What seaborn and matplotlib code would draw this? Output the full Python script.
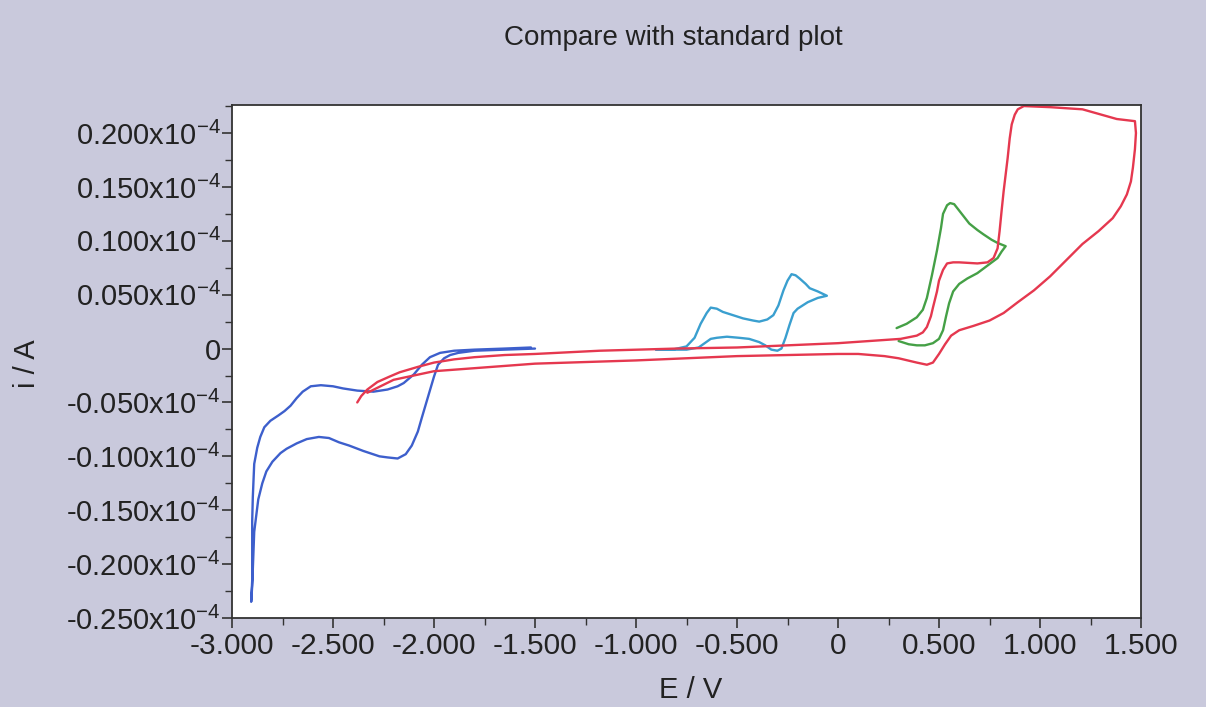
import numpy as np
import pandas as pd
import matplotlib
matplotlib.use("Agg")
import matplotlib.pyplot as plt
import seaborn as sns

# ---------------- data (E in V, i in units of 1e-4 A) ----------------
blue_E = [-1.50, -1.65, -1.80, -1.88, -1.92, -1.95, -1.98, -2.00, -2.03, -2.06, -2.08, -2.11, -2.14,
          -2.18, -2.23, -2.27, -2.35, -2.42, -2.47, -2.52, -2.57, -2.63, -2.68, -2.73, -2.76, -2.80,
          -2.83, -2.85, -2.87, -2.88, -2.89, -2.895, -2.90, -2.905,
          -2.90, -2.90, -2.90, -2.897, -2.893, -2.89, -2.875, -2.86, -2.84, -2.81, -2.77, -2.74,
          -2.71, -2.68, -2.65, -2.61, -2.56, -2.50, -2.45, -2.38, -2.30, -2.23, -2.18, -2.15, -2.10,
          -2.06, -2.02, -1.97, -1.90, -1.80, -1.65, -1.52]
blue_i = [0.000, -0.001, -0.002, -0.004, -0.006, -0.009, -0.015, -0.026, -0.045, -0.064, -0.077, -0.090, -0.098,
          -0.102, -0.101, -0.100, -0.095, -0.090, -0.087, -0.083, -0.082, -0.084, -0.088, -0.093, -0.097, -0.105,
          -0.114, -0.125, -0.140, -0.155, -0.170, -0.195, -0.220, -0.235,
          -0.215, -0.190, -0.160, -0.138, -0.120, -0.107, -0.092, -0.082, -0.073, -0.067, -0.062, -0.058,
          -0.053, -0.046, -0.040, -0.035, -0.034, -0.035, -0.037, -0.039, -0.040, -0.038, -0.035, -0.032, -0.024,
          -0.015, -0.008, -0.004, -0.002, -0.001, 0.000, 0.001]

cyan_E = [-0.90, -0.82, -0.75, -0.71, -0.68, -0.65, -0.63, -0.60, -0.57, -0.52, -0.47, -0.42, -0.39,
          -0.35, -0.32, -0.295, -0.27, -0.25, -0.23, -0.21, -0.19, -0.16, -0.14, -0.10, -0.055,
          -0.10, -0.15, -0.20, -0.22, -0.24, -0.26, -0.28, -0.30, -0.33, -0.36, -0.39, -0.44, -0.49,
          -0.55, -0.60, -0.63, -0.66, -0.69, -0.75, -0.90]
cyan_i = [-0.001, -0.001, 0.002, 0.010, 0.023, 0.033, 0.038, 0.037, 0.034, 0.031, 0.028, 0.026, 0.025,
          0.027, 0.031, 0.040, 0.054, 0.063, 0.069, 0.068, 0.065, 0.060, 0.056, 0.053, 0.049,
          0.047, 0.043, 0.037, 0.033, 0.022, 0.010, 0.000, -0.002, -0.001, 0.003, 0.006, 0.009, 0.010,
          0.011, 0.010, 0.009, 0.005, 0.001, -0.001, -0.001]

green_E = [0.29, 0.34, 0.39, 0.42, 0.44, 0.465, 0.49, 0.51, 0.52, 0.54, 0.555, 0.575, 0.60, 0.65, 0.69,
           0.72, 0.76, 0.79, 0.83, 0.81, 0.79, 0.74, 0.69, 0.64, 0.60, 0.57, 0.55, 0.535, 0.52, 0.50,
           0.47, 0.43, 0.39, 0.35, 0.30]
green_i = [0.019, 0.023, 0.029, 0.036, 0.047, 0.068, 0.091, 0.112, 0.125, 0.133, 0.135, 0.134, 0.128, 0.116, 0.110,
           0.106, 0.101, 0.098, 0.095, 0.090, 0.084, 0.077, 0.070, 0.065, 0.060, 0.053, 0.042, 0.030, 0.017, 0.009,
           0.005, 0.003, 0.003, 0.004, 0.007]

red_E = [-2.38, -2.36, -2.33, -2.28, -2.22, -2.17, -2.08, -2.00, -1.90, -1.80, -1.65, -1.50, -1.18, -0.80,
         -0.50, 0.00, 0.31, 0.39, 0.42, 0.44, 0.46, 0.47, 0.49, 0.50, 0.52, 0.54, 0.57, 0.60, 0.69, 0.74,
         0.77, 0.79, 0.80, 0.81, 0.82, 0.84, 0.85, 0.86, 0.875, 0.89, 0.92, 1.05, 1.21, 1.38, 1.47,
         1.475, 1.47, 1.46, 1.45, 1.43, 1.40, 1.36, 1.29, 1.21, 1.13, 1.05, 0.97, 0.89, 0.82, 0.75, 0.67,
         0.60, 0.56, 0.53, 0.50, 0.47, 0.44, 0.39, 0.30, 0.23, 0.10, 0.00, -0.25, -0.50, -1.00, -1.50,
         -2.00, -2.20, -2.33]
red_i = [-0.050, -0.044, -0.038, -0.031, -0.026, -0.022, -0.017, -0.013, -0.010, -0.008, -0.006, -0.005, -0.002, 0.000,
         0.001, 0.005, 0.009, 0.012, 0.015, 0.020, 0.030, 0.038, 0.053, 0.063, 0.073, 0.079, 0.080, 0.080, 0.079, 0.080,
         0.084, 0.093, 0.109, 0.128, 0.146, 0.177, 0.195, 0.208, 0.217, 0.222, 0.225, 0.224, 0.222, 0.213, 0.211,
         0.200, 0.185, 0.168, 0.155, 0.143, 0.132, 0.121, 0.109, 0.097, 0.082, 0.067, 0.054, 0.043, 0.033, 0.026, 0.021,
         0.017, 0.012, 0.004, -0.005, -0.013, -0.015, -0.013, -0.009, -0.007, -0.005, -0.005, -0.006, -0.007, -0.011, -0.014,
         -0.021, -0.029, -0.041]

x_ticks = [-3.0, -2.5, -2.0, -1.5, -1.0, -0.5, 0.0, 0.5, 1.0, 1.5]
x_tick_labels = ["-3.000", "-2.500", "-2.000", "-1.500", "-1.000", "-0.500", "0", "0.500", "1.000", "1.500"]
y_ticks = [-0.250, -0.200, -0.150, -0.100, -0.050, 0.0, 0.050, 0.100, 0.150, 0.200]
y_tick_labels = ["-0.250x10", "-0.200x10", "-0.150x10", "-0.100x10", "-0.050x10", "0",
                 "0.050x10", "0.100x10", "0.150x10", "0.200x10"]

series_names = ["blue", "cyan", "green", "red"]
series_colors = {"blue": "#3d5fcc", "cyan": "#3a9fcf", "green": "#45a046", "red": "#e5384f"}

frames = []
for name, E, I in [("blue", blue_E, blue_i), ("cyan", cyan_E, cyan_i),
                   ("green", green_E, green_i), ("red", red_E, red_i)]:
    frames.append(pd.DataFrame({"E": E, "i": np.array(I) * 1e-4, "series": name}))
df = pd.concat(frames, ignore_index=True)

# ---------------- figure ----------------
sns.set_theme(style="white")
plt.rcParams["font.family"] = ["Liberation Sans", "DejaVu Sans"]
BG = "#c9c9dc"
TXT = "#222222"
fig = plt.figure(figsize=(12.06, 7.07), dpi=100, facecolor=BG)
ax = fig.add_axes([232 / 1206, 1 - 618 / 707, (1141 - 232) / 1206, (618 - 105) / 707])
ax.set_facecolor("white")

sns.lineplot(data=df, x="E", y="i", hue="series", hue_order=series_names,
             palette=series_colors, sort=False, estimator=None, units="series",
             linewidth=1.7, legend=False, ax=ax)

ax.set_xlim(-3.0, 1.5)
ax.set_ylim(-0.250e-4, 0.226e-4)
ax.set_xticks(x_ticks)
ax.set_xticklabels(x_tick_labels)
ax.set_yticks([v * 1e-4 for v in y_ticks])
ax.set_yticklabels([lab if lab == "0" else lab + r"$^{\mathregular{-4}}$" for lab in y_tick_labels])
ax.set_xticks([v + 0.25 for v in x_ticks[:-1]], minor=True)
ax.set_yticks([(v + 0.025) * 1e-4 for v in y_ticks], minor=True)

ax.tick_params(axis="both", which="major", direction="out", length=7, width=1.2,
               color="#333333", labelcolor=TXT, pad=1)
ax.tick_params(axis="x", which="major", labelsize=21.5, pad=3)
ax.tick_params(axis="y", which="major", labelsize=21)
ax.tick_params(axis="both", which="minor", direction="out", length=5, width=1.0, color="#333333")
ax.tick_params(axis="x", which="both", bottom=True)
ax.tick_params(axis="y", which="both", left=True)
for s in ax.spines.values():
    s.set_color("#333333")
    s.set_linewidth(1.3)

ax.set_xlabel("")
ax.set_ylabel("")
fig.text(673 / 1206, 1 - 38 / 707, "Compare with standard plot", ha="center", va="center",
         fontsize=20, color=TXT)
fig.text(691 / 1206, 1 - 690 / 707, "E / V", ha="center", va="center", fontsize=21, color=TXT)
fig.text(27 / 1206, 1 - 364 / 707, "i / A", ha="center", va="center", rotation=90,
         fontsize=21, color=TXT)

fig.savefig("out.png", dpi=100, facecolor=BG)
